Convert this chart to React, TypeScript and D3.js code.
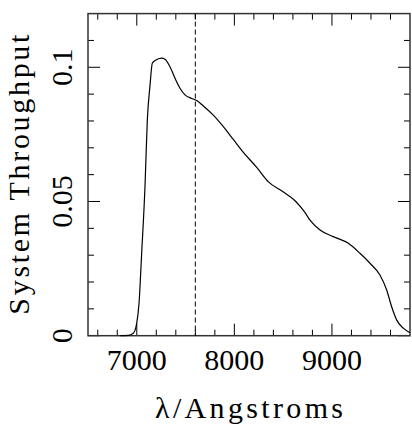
import React, { useEffect, useRef } from "react";
import * as d3 from "d3";

// throughput curve
const wavelength = [
  6830, 6913, 6964, 6999, 7023, 7050, 7084, 7108, 7135, 7159, 7187, 7255, 7289,
  7340, 7392, 7443, 7494, 7563, 7614, 7682, 7784, 7887, 7989, 8092, 8229, 8352,
  8495, 8632, 8717, 8775, 8878, 9014, 9168, 9287, 9390, 9492, 9561, 9612, 9664,
  9731, 9800,
];
const throughput = [
  0, 0.0001, 0.0009, 0.0046, 0.0121, 0.0307, 0.0555, 0.0804, 0.093, 0.1015,
  0.1025, 0.1034, 0.103, 0.1002, 0.0959, 0.0922, 0.0897, 0.0884, 0.0876, 0.0856,
  0.0822, 0.0779, 0.0731, 0.0683, 0.0627, 0.0572, 0.0537, 0.0499, 0.0462, 0.0431,
  0.0394, 0.0369, 0.0344, 0.0307, 0.027, 0.0226, 0.017, 0.0108, 0.0058, 0.0028,
  0.0011,
];

const xMajor = [7000, 8000, 9000];
const xMinor = d3.range(6600, 9800, 200);
const yMajor = [0, 0.05, 0.1];
const yMinor = d3.range(0.01, 0.12, 0.01);
const markerLambda = 7600;

const xTitle = "λ/Angstroms";
const yTitle = "System Throughput";

const W = 412;
const H = 426;
const margin = { left: 88, right: 2, top: 13.6, bottom: 90.3 };
const font = "'Liberation Serif', 'Times New Roman', serif";

export default function App() {
  const ref = useRef<SVGSVGElement>(null);

  useEffect(() => {
    const svg = d3.select(ref.current);
    svg.selectAll("*").remove();

    const x0 = margin.left;
    const x1 = W - margin.right;
    const y0 = H - margin.bottom;
    const y1 = margin.top;

    const x = d3.scaleLinear().domain([6500, 9800]).range([x0, x1]);
    const y = d3.scaleLinear().domain([0, 0.12]).range([y0, y1]);

    const g = svg.append("g");

    // ticks on all four sides, pointing inward
    const tick = (v: number, len: number) => {
      g.append("line").attr("x1", x(v)).attr("x2", x(v)).attr("y1", y0).attr("y2", y0 - len);
      g.append("line").attr("x1", x(v)).attr("x2", x(v)).attr("y1", y1).attr("y2", y1 + len);
    };
    const ytick = (v: number, len: number) => {
      g.append("line").attr("y1", y(v)).attr("y2", y(v)).attr("x1", x0).attr("x2", x0 + len);
      g.append("line").attr("y1", y(v)).attr("y2", y(v)).attr("x1", x1).attr("x2", x1 - len);
    };
    xMinor.filter((v) => !xMajor.includes(v)).forEach((v) => tick(v, 6));
    xMajor.forEach((v) => tick(v, 12));
    yMinor.filter((v) => Math.abs(v - 0.05) > 1e-6 && Math.abs(v - 0.1) > 1e-6).forEach((v) => ytick(v, 6));
    yMajor.forEach((v) => ytick(v, 12));
    g.selectAll("line").attr("stroke", "#000").attr("stroke-width", 1);

    // frame
    svg
      .append("rect")
      .attr("x", x0)
      .attr("y", y1)
      .attr("width", x1 - x0)
      .attr("height", y0 - y1)
      .attr("fill", "none")
      .attr("stroke", "#333")
      .attr("stroke-width", 1.5);

    // dashed marker
    svg
      .append("line")
      .attr("x1", x(markerLambda))
      .attr("x2", x(markerLambda))
      .attr("y1", y1)
      .attr("y2", y0)
      .attr("stroke", "#000")
      .attr("stroke-width", 1)
      .attr("stroke-dasharray", "5,3");

    // curve
    const pts = wavelength.map((w, i) => [w, throughput[i]] as [number, number]);
    const line = d3
      .line<[number, number]>()
      .x((d) => x(d[0]))
      .y((d) => y(d[1]))
      .curve(d3.curveMonotoneX);
    svg
      .append("path")
      .attr("d", line(pts))
      .attr("fill", "none")
      .attr("stroke", "#000")
      .attr("stroke-width", 1.2);

    // x tick labels
    svg
      .selectAll(".xl")
      .data(xMajor)
      .enter()
      .append("text")
      .attr("x", (d) => x(d))
      .attr("y", 370)
      .attr("text-anchor", "middle")
      .style("font-family", font)
      .style("font-size", "30px")
      .text((d) => String(d));

    // y tick labels, rotated
    svg
      .selectAll(".yl")
      .data(yMajor)
      .enter()
      .append("text")
      .attr("transform", (d) => `translate(72, ${y(d)}) rotate(-90)`)
      .attr("text-anchor", "middle")
      .style("font-family", font)
      .style("font-size", "30px")
      .text((d) => (d === 0 ? "0" : String(d)));

    // titles
    svg
      .append("text")
      .attr("x", (x0 + x1) / 2)
      .attr("y", 418)
      .attr("text-anchor", "middle")
      .attr("textLength", 188)
      .attr("lengthAdjust", "spacing")
      .style("font-family", font)
      .style("font-size", "30px")
      .text(xTitle);

    svg
      .append("text")
      .attr("transform", `translate(29, ${(y0 + y1) / 2}) rotate(-90)`)
      .attr("text-anchor", "middle")
      .attr("textLength", 280)
      .attr("lengthAdjust", "spacing")
      .style("font-family", font)
      .style("font-size", "30px")
      .text(yTitle);
  }, []);

  return (
    <svg
      ref={ref}
      width={W}
      height={H}
      style={{ position: "absolute", left: 0, top: 0, background: "#fff" }}
    />
  );
}
